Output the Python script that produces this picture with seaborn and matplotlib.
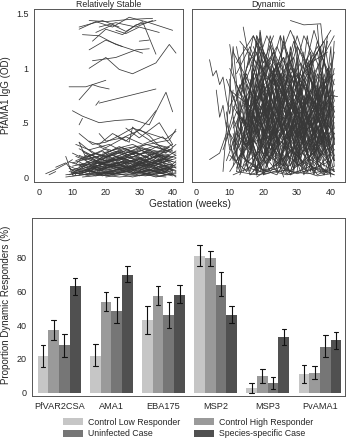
import numpy as np
import pandas as pd
import matplotlib
matplotlib.use("Agg")
import matplotlib.pyplot as plt
import seaborn as sns

# ---------------- data ----------------
# Individual PfAMA1 IgG trajectories: list of (gestation week, OD) visits
stable_traj = [
    [(12,1.36),(17,1.43),(22,1.38),(27,1.47),(33,1.42),(40,1.35)],
    [(15,1.44),(20,1.43),(27,1.45),(34,1.46)],
    [(13,1.31),(18,1.30),(23,1.22),(28,1.17),(31,1.14)],
    [(16,1.25),(20,1.36),(25,1.31),(29,1.40),(35,1.44)],
    [(17,1.33),(22,1.40),(26,1.34),(31,1.43),(35,1.13)],
    [(15,1.17),(20,1.26),(25,1.20)],
    [(16,1.07),(23,1.10),(29,1.17),(33,1.18)],
    [(15,1.00),(20,1.10),(24,0.99),(28,0.95),(35,1.05),(39,1.22),(41,1.14)],
    [(30,1.25),(33,1.26)],
    [(23,1.35),(26,1.32),(30,1.38),(36,1.33)],
    [(12,1.38),(19,1.44),(24,1.38)],
    [(18,1.38),(23,1.42),(29,1.38),(34,1.44)],
    [(9,0.83),(14,0.83),(16,0.85),(18,0.83),(21,0.81)],
    [(12,0.71),(16,0.85),(20,0.89)],
    [(17,0.66),(18,0.70)],
    [(18,0.68),(35,0.81)],
    [(10,0.61),(13,0.56),(18,0.50),(23,0.52),(28,0.53),(33,0.48),(38,0.78),(40,0.60)],
    [(12,0.48),(13,0.54)],
    [(12,0.40),(16,0.30),(20,0.32),(24,0.38),(28,0.45),(33,0.40),(38,0.35),(41,0.42)],
    [(18,0.40),(20,0.33),(25,0.36),(30,0.43),(33,0.53),(35,0.61)],
    [(26,0.45),(30,0.36),(36,0.50),(40,0.30)],
    [(8,0.02),(15,0.05),(22,0.03),(30,0.08),(38,0.04)],
    [(10,0.10),(16,0.14),(24,0.08),(33,0.12),(40,0.06)],
    [(12,0.20),(18,0.12),(25,0.18),(31,0.10),(39,0.15)],
    [(9,0.05),(14,0.02),(21,0.10),(29,0.06),(36,0.01),(41,0.03)],
    [(11,0.15),(17,0.22),(23,0.16),(30,0.25),(37,0.18)],
    [(13,0.08),(20,0.01),(27,0.05),(35,0.02),(40,0.09)],
    [(10,0.01),(18,0.04),(26,0.02),(33,0.06),(40,0.01)],
    [(14,0.18),(20,0.26),(27,0.20),(34,0.28),(41,0.22)],
    [(12,0.12),(19,0.07),(26,0.13),(32,0.09),(39,0.20)],
    [(8,0.00),(16,0.03),(24,0.00),(31,0.02),(38,0.00)],
    [(15,0.10),(21,0.17),(28,0.12),(35,0.19),(40,0.14)],
    [(11,0.06),(17,0.11),(25,0.06),(32,0.14),(39,0.10)],
    [(12,0.32),(16,0.22),(20,0.19),(26,0.24),(31,0.17),(38,0.26)],
    [(17,0.02),(23,0.07),(30,0.03),(37,0.11),(41,0.05)],
    [(10,0.22),(14,0.16),(19,0.20),(24,0.28),(30,0.21),(36,0.24),(40,0.30)],
    [(13,0.04),(19,0.10),(25,0.14),(31,0.05),(38,0.08)],
    [(9,0.14),(15,0.08),(22,0.15),(28,0.19),(35,0.12),(41,0.17)],
    [(16,0.20),(22,0.12),(29,0.16),(34,0.08),(40,0.12)],
    [(12,0.09),(18,0.16),(24,0.22),(30,0.14),(37,0.20)],
    [(14,0.01),(21,0.05),(28,0.00),(34,0.04),(40,0.02)],
    [(10,0.07),(17,0.01),(23,0.06),(31,0.13),(39,0.03)],
    [(15,0.25),(21,0.30),(26,0.22),(32,0.30),(37,0.26),(41,0.20)],
    [(18,0.14),(24,0.10),(30,0.18),(36,0.07),(40,0.11)],
    [(11,0.03),(16,0.08),(22,0.02),(29,0.10),(36,0.04)],
    [(13,0.16),(19,0.24),(25,0.10),(32,0.20),(39,0.25)],
    [(20,0.08),(26,0.16),(33,0.11),(38,0.17),(41,0.08)],
    [(12,0.26),(17,0.18),(23,0.26),(28,0.30),(34,0.22),(40,0.16)],
    [(9,0.10),(13,0.05),(19,0.12),(27,0.09),(33,0.16),(40,0.07)],
    [(16,0.05),(22,0.12),(29,0.07),(35,0.15),(41,0.10)],
    [(14,0.12),(20,0.06),(27,0.11),(33,0.04),(39,0.09)],
    [(11,0.19),(18,0.10),(25,0.21),(31,0.27),(38,0.18)],
    [(19,0.22),(25,0.27),(30,0.20),(36,0.29),(40,0.24)],
    [(10,0.04),(15,0.12),(21,0.08),(28,0.15),(34,0.09),(41,0.01)],
    [(17,0.09),(24,0.04),(31,0.09),(37,0.03),(41,0.12)],
    [(12,0.14),(16,0.07),(23,0.19),(29,0.12),(36,0.16),(40,0.05)],
    [(22,0.18),(28,0.24),(33,0.17),(39,0.21)],
    [(13,0.00),(20,0.02),(28,0.06),(35,0.00),(41,0.04)],
    [(15,0.17),(22,0.09),(27,0.17),(33,0.25),(39,0.13)],
    [(10,0.13),(16,0.18),(24,0.12),(30,0.06),(38,0.14)],
    [(18,0.28),(23,0.21),(29,0.28),(34,0.18),(40,0.26)],
    [(11,0.08),(19,0.03),(26,0.09),(33,0.02),(40,0.06)],
    [(14,0.22),(20,0.15),(26,0.20),(32,0.26),(38,0.22)],
    [(21,0.11),(27,0.04),(32,0.13),(38,0.05),(41,0.15)],
    [(12,0.05),(18,0.09),(25,0.04),(30,0.11),(37,0.06)],
    [(16,0.13),(22,0.20),(28,0.14),(35,0.22),(41,0.18)],
    [(9,0.02),(14,0.07),(20,0.13),(27,0.18),(34,0.13),(39,0.19)],
    [(13,0.11),(21,0.14),(29,0.22),(36,0.14),(41,0.24)],
    [(20,0.00),(26,0.03),(32,0.01),(38,0.07),(41,0.00)],
    [(11,0.30),(15,0.25),(19,0.18),(25,0.26),(31,0.29),(39,0.34),(41,0.44)],
    [(15,0.33),(20,0.27),(26,0.37),(31,0.30),(37,0.37),(40,0.28)],
    [(2,0.03),(5,0.07),(8,0.12),(10,0.16)],
    [(3,0.02),(5,0.05)],
    [(5,0.09),(8,0.13),(11,0.02)],
    [(8,0.19),(10,0.02),(13,0.09)],
    [(12,0.32),(14,0.18)],
    [(18,0.30),(22,0.40),(27,0.32),(28,0.46),(30,0.40),(35,0.30),(39,0.27)],
    [(23,0.38),(26,0.33),(30,0.44),(33,0.38),(38,0.22),(41,0.30)],
    [(10,0.06),(13,0.10),(17,0.04),(21,0.12),(26,0.07),(30,0.12),(35,0.05),(40,0.10)],
    [(11,0.12),(14,0.20),(18,0.14),(22,0.09),(27,0.15),(32,0.10),(37,0.18),(41,0.13)],
    [(12,0.02),(15,0.06),(19,0.01),(24,0.08),(28,0.03),(33,0.07),(38,0.02)],
    [(13,0.24),(17,0.15),(21,0.22),(25,0.16),(29,0.23),(34,0.15),(39,0.28)],
    [(16,0.10),(19,0.19),(23,0.13),(27,0.08),(31,0.17),(36,0.11),(41,0.06)],
    [(9,0.08),(12,0.03),(17,0.07),(22,0.04),(27,0.10),(33,0.05),(39,0.12)],
    [(14,0.15),(18,0.05),(22,0.11),(26,0.19),(31,0.13),(35,0.20),(40,0.18)],
    [(18,0.07),(22,0.02),(26,0.08),(30,0.01),(35,0.06),(41,0.09)],
    [(15,0.04),(19,0.14),(24,0.17),(29,0.10),(33,0.20),(38,0.12)],
    [(20,0.18),(24,0.24),(28,0.18),(32,0.23),(37,0.15),(41,0.20)],
    [(12,0.10),(16,0.16),(20,0.10),(25,0.14),(29,0.04),(34,0.12),(40,0.04)],
    [(17,0.12),(21,0.20),(26,0.26),(30,0.17),(34,0.10),(39,0.16)],
]

dynamic_traj = [
    [(4,1.08),(5,0.93),(6,0.98),(7,0.85),(8,0.92),(9,0.72),(10,0.58),(11,0.80)],
    [(4,0.16),(7,0.22),(9,0.40)],
    [(6,0.80),(7,0.55),(8,0.66),(10,0.25)],
    [(8,0.05),(11,1.20),(14,0.20),(19,0.90),(26,0.10),(33,1.10),(40,0.30)],
    [(10,1.22),(14,0.30),(18,1.30),(24,0.40),(30,0.95),(37,0.15)],
    [(12,0.05),(16,0.60),(21,0.10),(27,0.80),(33,0.30),(40,1.05)],
    [(9,0.50),(13,0.10),(17,1.00),(22,0.45),(29,1.25),(35,0.60),(41,0.20)],
    [(14,1.38),(18,0.70),(23,1.15),(29,0.30),(34,0.90),(40,0.05)],
    [(11,0.30),(15,0.85),(20,0.20),(25,0.60),(31,0.05),(38,0.70)],
    [(13,0.95),(17,0.40),(22,1.30),(28,0.55),(33,1.00),(39,0.40)],
    [(28,1.44),(32,1.40),(37,1.41),(40,0.50)],
    [(10,0.15),(15,0.40),(19,0.08),(26,0.35),(32,0.12),(41,0.45)],
    [(12,0.70),(16,1.10),(21,0.60),(26,1.25),(31,0.75),(36,1.15),(41,0.35)],
    [(15,0.05),(20,0.85),(25,0.20),(30,0.50),(35,0.02),(40,0.60)],
    [(9,0.90),(14,0.50),(19,1.20),(24,0.80),(30,0.30),(38,0.90)],
    [(16,0.25),(19,1.35),(23,0.50),(29,0.95),(34,0.20),(39,1.30)],
    [(11,0.02),(17,0.10),(24,0.02),(31,0.40),(37,0.08),(41,0.02)],
    [(13,0.45),(18,0.15),(24,0.75),(29,0.20),(35,0.55),(40,0.10)],
    [(10,0.65),(15,0.95),(20,0.35),(27,1.05),(33,0.50),(39,0.85)],
    [(17,1.20),(21,0.90),(26,1.10),(31,0.40),(37,0.95),(41,0.60)],
    [(12,0.35),(16,0.05),(22,0.55),(28,0.02),(34,0.35),(40,0.12)],
    [(14,0.80),(19,0.25),(25,0.70),(30,1.30),(36,0.70),(40,1.00)],
    [(8,0.25),(12,0.60),(18,0.30),(23,0.95),(30,0.60),(35,0.20),(41,0.75)],
    [(15,1.00),(19,1.28),(24,0.60),(30,1.20),(35,0.95),(41,1.30)],
    [(11,0.10),(14,0.55),(18,0.02),(22,0.40),(27,0.05),(33,0.75),(40,0.25)],
    [(13,1.25),(18,1.05),(23,0.85),(29,1.10),(34,0.40),(38,0.80)],
    [(16,0.40),(21,0.75),(26,0.15),(31,0.65),(37,0.30),(41,0.90)],
    [(12,0.15),(17,0.35),(22,0.05),(28,0.25),(35,0.05),(40,0.40)],
    [(10,0.80),(16,0.65),(20,1.15),(25,0.90),(31,0.20),(36,0.45),(40,0.15)],
    [(18,0.55),(22,1.20),(27,0.70),(32,1.30),(36,1.05),(40,0.45)],
    [(14,0.20),(19,0.60),(24,0.30),(30,0.85),(35,0.10),(41,0.40)],
    [(11,1.15),(16,0.85),(21,1.30),(26,0.95),(32,0.60),(38,1.20)],
    [(13,0.60),(18,0.95),(23,0.20),(28,0.70),(33,0.25),(39,0.55)],
    [(17,0.05),(22,0.30),(27,0.03),(32,0.15),(38,0.02),(41,0.20)],
    [(15,0.70),(20,0.40),(25,0.95),(30,0.35),(36,0.80),(40,0.20)],
    [(9,0.35),(13,0.85),(18,0.50),(24,1.05),(29,0.45),(34,0.75),(40,0.35)],
    [(12,1.05),(17,1.30),(22,1.00),(27,0.55),(32,0.90),(37,0.50),(41,1.15)],
    [(16,0.90),(21,0.30),(26,0.65),(31,0.10),(37,0.50),(41,0.05)],
    [(10,0.40),(15,0.15),(21,0.70),(26,0.40),(33,0.95),(39,0.60)],
    [(19,0.10),(24,0.45),(29,0.08),(34,0.60),(39,0.15)],
    [(14,0.55),(18,0.20),(23,0.45),(28,0.85),(34,0.45),(40,0.75)],
    [(11,0.75),(15,0.30),(20,0.60),(26,0.25),(31,0.55),(37,0.05)],
    [(13,0.02),(18,0.45),(23,0.90),(28,0.35),(33,0.05),(38,0.35),(41,0.55)],
    [(17,0.75),(22,0.50),(27,1.15),(32,0.70),(36,1.25),(40,0.85)],
    [(12,0.50),(16,0.20),(21,0.85),(27,0.60),(32,0.20),(39,0.05)],
    [(15,0.35),(20,0.05),(25,0.40),(30,0.15),(35,0.70),(40,0.30)],
    [(10,0.05),(14,0.25),(19,0.50),(24,0.10),(30,0.30),(36,0.02),(41,0.10)],
    [(18,1.30),(23,0.95),(28,1.35),(33,1.00),(38,1.25),(41,0.70)],
    [(13,0.30),(17,0.70),(22,0.25),(27,0.45),(32,0.85),(38,0.25)],
    [(16,0.60),(20,0.95),(25,0.50),(30,0.75),(35,0.40),(41,0.65)],
    [(11,0.55),(16,0.02),(21,0.20),(26,0.80),(31,0.45),(36,0.95),(40,0.55)],
    [(14,0.10),(19,0.25),(24,0.05),(29,0.55),(34,0.15),(39,0.45)],
    [(12,0.85),(17,0.55),(22,1.10),(28,0.80),(33,0.30),(39,0.70)],
    [(19,0.75),(23,0.35),(28,0.60),(33,0.20),(38,0.60),(41,0.35)],
    [(15,0.15),(21,0.05),(27,0.20),(33,0.05),(40,0.15)],
    [(10,1.00),(14,0.70),(18,0.40),(23,0.65),(29,1.00),(35,0.65),(41,0.40)],
    [(16,1.15),(20,0.75),(25,1.30),(30,0.85),(35,1.10),(40,1.35)],
    [(13,0.40),(18,0.75),(23,0.60),(29,0.15),(34,0.50),(40,0.95)],
    [(17,0.30),(22,0.65),(27,0.35),(32,0.50),(37,0.20),(41,0.30)],
    [(11,0.25),(15,0.65),(20,0.45),(25,0.15),(31,0.70),(36,0.35),(41,0.70)],
    [(14,0.95),(19,0.55),(24,0.85),(29,0.60),(34,1.05),(39,1.15)],
    [(12,0.08),(17,0.55),(22,0.15),(27,0.50),(32,0.08),(37,0.40),(40,0.02)],
    [(18,0.40),(22,0.15),(27,0.90),(31,0.25),(36,0.45),(41,0.15)],
    [(15,0.50),(19,0.10),(24,0.35),(29,0.70),(35,0.25),(40,0.50)],
    [(20,1.10),(24,0.85),(29,0.55),(34,0.80),(39,0.30)],
    [(10,0.30),(13,0.05),(17,0.80),(21,0.25),(26,0.55),(31,0.35),(37,0.85)],
    [(13,0.20),(19,0.05),(25,0.60),(30,0.10),(36,0.25),(41,0.05)],
    [(16,0.02),(22,0.08),(28,0.02),(34,0.10),(40,0.04)],
    [(12,0.05),(18,0.02),(26,0.06),(33,0.03),(41,0.07)],
    [(21,0.60),(25,1.05),(30,0.70),(35,1.35),(39,0.95),(41,0.45)],
    [(14,0.65),(18,0.85),(23,0.40),(28,1.00),(33,0.80),(38,0.40),(41,0.25)],
    [(19,0.95),(24,1.20),(29,0.85),(34,1.15),(38,0.55),(41,1.00)],
    [(11,0.45),(16,0.75),(22,0.30),(27,0.10),(33,0.60),(38,0.10)],
    [(15,0.85),(20,0.55),(25,0.30),(31,0.60),(36,0.15),(41,0.50)],
    [(17,0.15),(21,0.45),(26,0.30),(32,0.75),(37,0.40),(41,0.80)],
    [(12,0.60),(16,0.45),(20,0.70),(26,1.10),(32,0.65),(37,0.30),(41,0.60)],
    [(14,0.30),(20,0.35),(26,0.45),(31,0.95),(36,0.60),(40,0.70)],
    [(18,0.00),(24,0.12),(30,0.45),(35,0.05),(41,0.25)],
    [(9,0.15),(12,0.40),(16,0.25),(20,0.55),(25,0.80),(30,0.55),(35,0.85),(39,0.40)],
    [(13,0.75),(18,1.15),(22,0.75),(27,0.35),(33,0.70),(38,1.05)],
    [(16,0.65),(21,1.05),(26,0.75),(31,1.05),(36,0.80),(41,0.95)],
    [(23,0.20),(28,0.05),(33,0.45),(38,0.20),(41,0.40)],
    [(10,0.20),(15,0.05),(20,0.30),(26,0.05),(32,0.25),(39,0.03)],
    [(20,0.50),(24,0.25),(28,0.05),(33,0.55),(37,0.70),(41,0.15)],
    [(15,0.45),(19,0.80),(24,1.00),(28,0.75),(32,0.45),(37,0.75)],
    [(12,0.95),(16,1.20),(20,0.85),(25,0.55),(30,0.85),(36,1.20),(41,0.85)],
    [(22,0.90),(27,0.25),(31,0.80),(36,0.15),(41,0.05)],
    [(17,0.50),(21,0.20),(26,0.10),(31,0.35),(36,0.55),(40,0.20)],
    [(38,0.73),(40,0.75),(42,0.74)],
    [(11,0.65),(15,0.45),(19,0.75),(24,0.95),(30,0.40),(35,0.55),(40,0.80)],
    [(14,1.20),(16,0.30),(19,1.10),(21,0.20),(24,0.90),(27,0.15)],
    [(19,1.33),(21,0.40),(23,1.00),(26,0.25),(29,0.85)],
    [(25,1.30),(27,0.35),(30,1.10),(33,0.20),(35,0.95),(38,0.10)],
    [(30,1.20),(32,0.30),(34,1.00),(36,0.15),(39,0.85),(41,0.30)],
    [(15,0.10),(17,0.95),(19,0.15),(22,0.70),(24,0.05)],
    [(33,1.05),(35,0.20),(37,1.20),(39,0.40),(41,1.25)],
    [(10,0.90),(12,0.20),(15,0.75),(17,0.10)],
    [(20,0.05),(22,0.80),(25,0.10),(28,0.95),(31,0.15),(34,0.60)],
    [(35,0.98),(36,0.30),(38,0.90),(40,0.10)],
    [(16,0.55),(18,0.02),(21,0.65),(23,0.10),(26,0.50)],
    [(27,0.65),(29,0.05),(31,0.55),(34,0.05),(37,0.45),(40,0.00)],
    [(12,0.30),(14,0.90),(16,0.40),(19,1.05),(22,0.50)],
    [(22,1.25),(24,0.70),(26,1.30),(29,0.60),(32,1.15)],
    [(17,0.85),(19,0.30),(22,0.95),(25,0.45),(28,1.20),(31,0.65)],
    [(30,0.05),(32,0.70),(35,0.25),(37,0.80),(40,0.20)],
    [(24,0.40),(26,0.95),(29,0.30),(32,0.85),(35,0.40),(38,0.95),(41,0.55)],
    [(11,0.40),(13,0.08),(15,0.60),(18,0.05),(20,0.45)],
    [(36,1.40),(38,0.60),(40,1.20),(41,0.30)],
    [(13,1.10),(15,0.60),(18,1.25),(20,0.55),(23,1.10),(26,0.65)],
    [(28,0.90),(30,0.35),(33,0.75),(36,0.25),(39,0.80),(41,0.10)],
    [(18,0.20),(20,0.70),(23,0.25),(25,0.55),(28,0.10),(31,0.40)],
    [(26,0.05),(29,0.40),(32,0.02),(35,0.30),(38,0.02),(41,0.35)],
    [(14,0.05),(17,0.30),(20,0.02),(23,0.25),(26,0.00)],
    [(21,0.35),(23,1.00),(25,0.45),(28,1.15),(31,0.50),(34,1.05)],
    [(32,0.55),(34,1.10),(36,0.50),(39,1.00),(41,0.60)],
    [(9,0.60),(11,0.15),(13,0.70),(16,0.30),(19,0.85)],
    [(23,0.75),(25,0.15),(28,0.55),(30,0.10),(33,0.50)],
    [(19,0.65),(21,0.10),(24,0.80),(27,0.20),(30,0.65),(33,0.05)],
    [(29,1.30),(31,0.80),(33,1.30),(36,0.70),(39,1.25)],
    [(15,0.25),(17,0.60),(20,0.85),(22,0.35),(25,0.75)],
    [(34,0.25),(36,0.85),(38,0.30),(40,0.70),(41,0.15)],
    [(12,1.20),(14,0.85),(17,1.30),(20,1.05),(23,1.30)],
    [(20,0.02),(23,0.05),(27,0.02),(31,0.06),(36,0.01),(40,0.03)],
    [(16,0.08),(20,0.04),(25,0.09),(30,0.03),(35,0.08),(41,0.02)],
]

antigens = ["PfVAR2CSA", "AMA1", "EBA175", "MSP2", "MSP3", "PvAMA1"]
groups = ["Control Low Responder", "Control High Responder",
          "Uninfected Case", "Species-specific Case"]
# proportion dynamic responders (%) per antigen, per group
prop_value = {
    "Control Low Responder":  [21.5, 22.0, 43.0, 81.0, 2.5, 11.0],
    "Control High Responder": [37.0, 54.0, 57.5, 79.5, 10.0, 11.5],
    "Uninfected Case":        [28.0, 48.5, 46.0, 64.0, 5.5, 27.0],
    "Species-specific Case":  [63.0, 70.0, 58.0, 46.0, 33.0, 31.0],
}
ci_low = {
    "Control Low Responder":  [15.0, 15.5, 35.0, 75.0, 0.0, 6.0],
    "Control High Responder": [31.0, 48.5, 52.0, 75.0, 6.0, 8.0],
    "Uninfected Case":        [21.0, 41.0, 38.5, 57.0, 2.0, 21.0],
    "Species-specific Case":  [58.0, 65.5, 53.0, 41.5, 28.0, 26.0],
}
ci_high = {
    "Control Low Responder":  [28.5, 29.0, 51.5, 87.5, 5.5, 16.5],
    "Control High Responder": [43.0, 59.5, 63.0, 84.0, 14.0, 15.5],
    "Uninfected Case":        [35.0, 56.5, 54.0, 71.5, 9.0, 34.0],
    "Species-specific Case":  [68.0, 75.0, 63.5, 51.5, 38.0, 36.0],
}
bar_colors = ["#c6c6c6", "#9a9a9a", "#767676", "#505050"]

# ---------------- build tables ----------------
def traj_frame(trajs):
    rows = []
    for i, t in enumerate(trajs):
        for w, v in t:
            rows.append({"id": i, "week": w, "od": v})
    return pd.DataFrame(rows)

df_stable = traj_frame(stable_traj)
df_dyn = traj_frame(dynamic_traj)

bar_rows = []
for g in groups:
    for j, a in enumerate(antigens):
        for v in (ci_low[g][j], prop_value[g][j], ci_high[g][j]):
            bar_rows.append({"antigen": a, "group": g, "pct": v})
df_bar = pd.DataFrame(bar_rows)

# ---------------- plotting ----------------
sns.set_style("white")
plt.rcParams["font.family"] = ["Liberation Sans", "DejaVu Sans"]
plt.rcParams["axes.edgecolor"] = "#555555"
plt.rcParams["axes.linewidth"] = 0.7

W, H = 347, 440
fig = plt.figure(figsize=(W / 100, H / 100), dpi=100)

def rect(l, t, r, b):
    return [l / W, 1 - b / H, (r - l) / W, (b - t) / H]

ax1 = fig.add_axes(rect(34, 9, 183, 182))
ax2 = fig.add_axes(rect(192, 9, 345, 182))
ax3 = fig.add_axes(rect(32, 218, 345, 396))

line_kw = dict(x="week", y="od", units="id", estimator=None,
               color="#383838", linewidth=0.55, legend=False)
sns.lineplot(data=df_stable, ax=ax1, **line_kw)
sns.lineplot(data=df_dyn, ax=ax2, **line_kw)

tick_kw = dict(direction="out", length=2.5, width=0.6, color="#555555",
               labelsize=6.5, pad=1.5)
for ax, xl in ((ax1, (-1.5, 43.1)), (ax2, (-1.2, 44.2))):
    ax.set_xlim(*xl)
    ax.set_ylim(-0.046, 1.546)
    ax.set_xticks([0, 10, 20, 30, 40])
    ax.set_xlabel("")
    ax.set_ylabel("")
    ax.tick_params(axis="both", **tick_kw)
    for s in ax.spines.values():
        s.set_visible(True)
        s.set_color("#555555")
        s.set_linewidth(0.7)

ax1.set_yticks([0, 0.5, 1.0, 1.5])
ax1.set_yticklabels(["0", ".5", "1", "1.5"])
ax2.set_yticks([])
ax1.set_title("Relatively Stable", fontsize=6.3, pad=1.5)
ax2.set_title("Dynamic", fontsize=6.3, pad=1.5)
fig.text(6.5 / W, 1 - 95 / H, "PfAMA1 IgG (OD)", rotation=90, ha="center",
         va="center", fontsize=7)
fig.text(189.5 / W, 1 - 204 / H, "Gestation (weeks)", ha="center",
         va="center", fontsize=7.3)

sns.barplot(data=df_bar, x="antigen", y="pct", hue="group",
            order=antigens, hue_order=groups, palette=bar_colors,
            estimator="median", errorbar=lambda v: (v.min(), v.max()),
            width=0.82, gap=0, linewidth=0, capsize=0.35,
            err_kws={"color": "#111111", "linewidth": 0.8}, ax=ax3)
ax3.set_xlim(-0.52, 5.48)
ax3.set_ylim(-2, 103.5)
ax3.set_yticks([0, 20, 40, 60, 80])
ax3.set_xlabel("")
ax3.set_ylabel("")
fig.text(6.5 / W, 1 - 305 / H, "Proportion Dynamic Responders (%)",
         rotation=90, ha="center", va="center", fontsize=7)
ax3.tick_params(axis="both", **tick_kw)
ax3.tick_params(axis="x", labelsize=6.6, length=0, pad=4)
for s in ax3.spines.values():
    s.set_visible(True)
    s.set_color("#555555")
    s.set_linewidth(0.7)

handles, labels = ax3.get_legend_handles_labels()
ax3.get_legend().remove()
order = [0, 2, 1, 3]
fig.legend([handles[i] for i in order], [labels[i] for i in order],
           loc="center", bbox_to_anchor=(188 / W, 1 - 428 / H), ncol=2,
           frameon=False, fontsize=6.3, handlelength=2.3, handleheight=0.8,
           handletextpad=0.57, columnspacing=1.6, labelspacing=0.3,
           borderpad=0)

fig.savefig("out.png", dpi=100)
